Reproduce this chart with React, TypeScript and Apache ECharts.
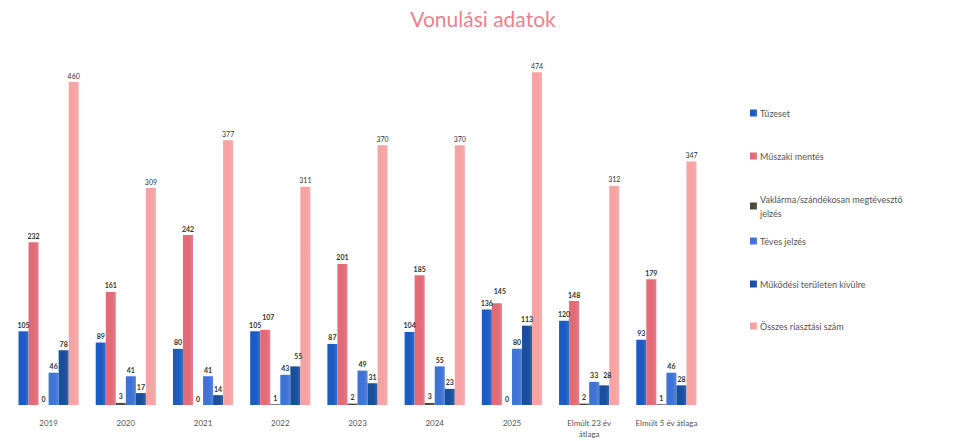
import React, { useEffect, useRef } from "react";
import * as echarts from "echarts";

const categories = ["2019", "2020", "2021", "2022", "2023", "2024", "2025", "Elmúlt 23 év\nátlaga", "Elmúlt 5 év átlaga"];
const seriesNames = [
  "Tűzeset",
  "Műszaki mentés",
  "Vaklárma/szándékosan megtévesztő\njelzés",
  "Téves jelzés",
  "Működési területen kívülre",
  "Összes riasztási szám",
];
const tuzeset = [105, 89, 80, 105, 87, 104, 136, 120, 93];
const muszaki = [232, 161, 242, 107, 201, 185, 145, 148, 179];
const vaklarma = [0, 3, 0, 1, 2, 3, 0, 2, 1];
const teves = [46, 41, 41, 43, 49, 55, 80, 33, 46];
const mukodesi = [78, 17, 14, 55, 31, 23, 113, 28, 28];
const osszes = [460, 309, 377, 311, 370, 370, 474, 312, 347];

const colors = ["#1c5cc2", "#e36b78", "#4b4a3c", "#3f74d6", "#1a4f9c", "#f5a3a3"];
const legendTops = [101, 144, 187, 229, 272, 314];

export default function App() {
  const ref = useRef<HTMLDivElement>(null);
  useEffect(() => {
    if (!ref.current) return;
    const chart = echarts.init(ref.current, null, { renderer: "svg" });
    const datasets = [tuzeset, muszaki, vaklarma, teves, mukodesi, osszes];
    const buildData = (i: number) =>
      datasets[i].map((v, k) => {
        // nudge labels of neighbouring bars with nearly equal heights
        if (i === 1 && Math.abs(v - tuzeset[k]) < 15) {
          return { value: v, label: { offset: [3, -6] } };
        }
        if (i === 4 && Math.abs(v - teves[k]) < 15) {
          return { value: v, label: { offset: [3, -4] } };
        }
        return v;
      });
    chart.setOption({
      animation: false,
      textStyle: { fontFamily: "Lato" },
      title: {
        text: "Vonulási adatok",
        left: 478,
        textAlign: "center",
        top: 3,
        textStyle: { color: "#f07f8e", fontSize: 21, fontWeight: "normal", fontFamily: "Lato" },
      },
      legend: seriesNames.map((n, i) => ({
        data: [n],
        left: 745,
        top: legendTops[i],
        orient: "vertical",
        itemWidth: 7,
        itemHeight: 7,
        icon: "rect",
        selectedMode: false,
        textStyle: { fontSize: 9, color: "#555", lineHeight: 14, padding: [0, 0, 0, -2] },
      })),
      grid: { left: 10, right: 259, top: 54, bottom: 36, containLabel: false },
      xAxis: {
        type: "category",
        data: categories,
        axisLine: { show: false },
        axisTick: { show: false },
        axisLabel: { fontSize: 8, color: "#555", margin: 12, interval: 0, lineHeight: 11 },
      },
      yAxis: {
        type: "value",
        min: 0,
        max: 500,
        show: false,
        splitLine: { show: false },
      },
      series: seriesNames.map((n, i) => ({
        name: n,
        type: "bar",
        data: buildData(i),
        barGap: "0%",
        barCategoryGap: "22%",
        itemStyle: {
          color: new echarts.graphic.LinearGradient(0, 0, 1, 0, [
            { offset: 0, color: colors[i] },
            { offset: 0.6, color: colors[i] },
            { offset: 1, color: echarts.color.lift(colors[i], 0.12) as string },
          ]),
        },
        label: {
          show: true,
          position: "top",
          fontSize: 7,
          color: "#333",
          fontWeight: i === 5 ? "normal" : "bold",
          distance: 3,
        },
      })),
    });
    return () => chart.dispose();
  }, []);
  return (
    <div
      ref={ref}
      style={{ position: "fixed", left: 0, top: 0, width: 964, height: 441, background: "#fff" }}
    />
  );
}
